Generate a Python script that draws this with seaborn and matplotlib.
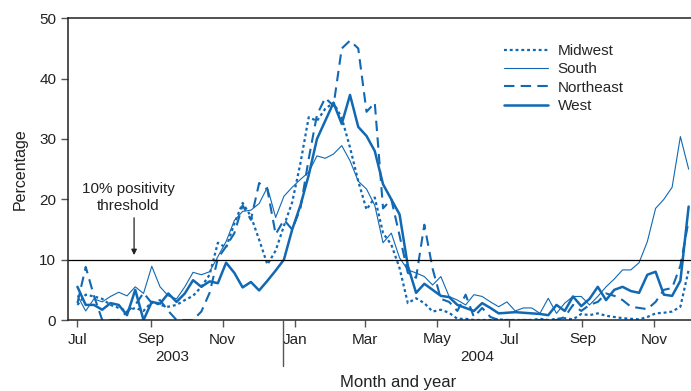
import pandas as pd
import numpy as np
import seaborn as sns
import matplotlib
matplotlib.use("Agg")
import matplotlib.pyplot as plt
import matplotlib.dates as mdates
from matplotlib.lines import Line2D

# weekly percentage of positive specimens, Jul 2003 - Nov 2004
weeks = pd.date_range("2003-07-01", periods=75, freq="7D")

midwest = [2.5, 4.2, 3.9, 3.5, 2.5, 2.0, 1.5, 2.0, 1.5, 3.0,
           2.5, 2.2, 2.5, 3.3, 4.0, 5.5, 7.5, 12.8, 12.0, 16.0,
           19.4, 17.2, 13.3, 9.2, 11.5, 15.6, 19.5, 26.0, 33.6, 33.0,
           35.0, 36.0, 33.5, 28.6, 23.0, 18.3, 20.3, 14.4, 12.5, 8.6,
           2.8, 3.6, 2.8, 1.4, 1.7, 1.2, 0.2, 0.2, 0.0, 0.0,
           0.0, 0.1, 0.0, 0.0, 0.0, 0.0, 0.2, 0.0, 0.2, 0.3,
           0.1, 1.0, 0.8, 1.1, 0.7, 0.5, 0.3, 0.2, 0.1, 0.5,
           1.1, 1.2, 1.4, 2.2, 8.3]

south = [4.0, 1.5, 3.5, 3.0, 3.9, 4.6, 4.0, 5.5, 4.4, 8.9,
         5.5, 4.0, 3.5, 5.5, 7.9, 7.5, 8.0, 10.5, 13.0, 16.5,
         18.0, 18.2, 19.3, 22.0, 17.0, 20.5, 22.0, 23.3, 24.5, 27.2,
         26.8, 27.5, 28.9, 26.4, 23.0, 21.7, 19.0, 12.8, 14.4, 10.3,
         8.3, 7.8, 7.2, 5.8, 7.2, 3.9, 3.3, 2.5, 4.2, 3.9,
         3.0, 2.2, 3.0, 1.5, 2.0, 2.0, 1.1, 3.6, 1.1, 2.8,
         3.9, 3.9, 2.5, 3.9, 5.5, 6.8, 8.3, 8.3, 9.5, 13.0,
         18.5, 20.0, 22.0, 30.4, 25.0]

northeast = [2.8, 8.8, 4.0, 0.0, 0.0, 0.0, 1.4, 2.5, 4.5, 2.8,
             3.3, 1.5, 0.0, 0.0, 0.0, 1.4, 4.5, 10.2, 12.2, 14.4,
             19.0, 16.6, 22.7, 21.6, 14.2, 16.6, 15.0, 18.5, 26.7, 34.0,
             36.8, 35.5, 45.0, 46.3, 45.0, 34.5, 36.0, 18.5, 20.0, 14.0,
             7.8, 7.0, 15.8, 8.5, 3.5, 3.0, 1.5, 4.2, 0.5, 2.0,
             0.5, 0.0, 0.0, 0.0, 0.0, 0.0, 0.0, 0.0, 0.0, 0.5,
             2.5, 1.5, 2.5, 3.0, 4.4, 4.0, 3.3, 2.2, 2.0, 1.8,
             3.0, 5.0, 5.3, 9.0, 16.5]

west = [5.5, 2.5, 2.5, 1.7, 2.8, 2.5, 0.8, 5.0, 0.0, 3.0,
        2.7, 4.4, 3.0, 4.4, 6.6, 5.5, 6.4, 6.1, 9.5, 7.8,
        5.4, 6.3, 4.9, 6.5, 8.2, 10.0, 15.0, 19.0, 24.0, 30.0,
        33.0, 36.0, 32.5, 37.3, 32.0, 30.5, 28.0, 22.5, 20.0, 17.5,
        9.0, 4.5, 6.0, 5.0, 4.0, 3.8, 2.5, 2.0, 1.5, 2.8,
        2.0, 1.1, 1.2, 1.3, 1.2, 1.1, 1.0, 0.8, 2.5, 1.5,
        3.9, 2.3, 3.5, 5.5, 3.3, 5.0, 5.5, 4.8, 4.5, 7.5,
        8.0, 4.2, 4.0, 6.5, 18.8]

regions = ["Midwest", "South", "Northeast", "West"]
values = [midwest, south, northeast, west]

df = pd.DataFrame({"week": np.tile(weeks, 4),
                   "region": np.repeat(regions, len(weeks)),
                   "pct": np.concatenate(values)})

blue = "#1168b3"
styles = {"Midwest": dict(linestyle=(0, (1.3, 1.3)), linewidth=1.6),
          "South": dict(linestyle="-", linewidth=0.8),
          "Northeast": dict(linestyle=(0, (5, 3)), linewidth=1.5),
          "West": dict(linestyle="-", linewidth=1.8)}

sns.set_style("ticks")
plt.rcParams["font.family"] = ["Liberation Sans", "DejaVu Sans"]

fig = plt.figure(figsize=(6.91, 3.91), dpi=100)
ax = fig.add_axes([68 / 691, 71 / 391, 1 - 68 / 691, 301.7 / 391])

for r in regions:
    sns.lineplot(data=df[df.region == r], x="week", y="pct", ax=ax,
                 color=blue, label=r, **styles[r])

ax.axhline(10, color="black", linewidth=0.9)

ax.set_ylim(0, 50)
ax.set_yticks([0, 10, 20, 30, 40, 50])
ax.set_xlim(pd.Timestamp("2003-06-23"), pd.Timestamp("2004-12-02"))
ax.xaxis.set_major_locator(mdates.MonthLocator(bymonth=[1, 3, 5, 7, 9, 11]))
ax.xaxis.set_major_formatter(mdates.DateFormatter("%b"))
ax.tick_params(axis="both", labelsize=11, color="#555555", length=5,
               width=1, labelcolor="#222222")
ax.tick_params(axis="x", pad=4)
for s in ["left", "bottom", "top"]:
    ax.spines[s].set_color("#222222")
    ax.spines[s].set_linewidth(1.1)
ax.spines["right"].set_visible(False)

ax.set_xlabel("")
ax.set_ylabel("Percentage", fontsize=11.5, color="#222222", labelpad=8)

ax.text(pd.Timestamp("2003-08-13"), 20.3, "10% positivity\nthreshold",
        ha="center", va="center", fontsize=11, color="#222222",
        linespacing=1.3)
ax.annotate("", xy=(pd.Timestamp("2003-08-18"), 10.3),
            xytext=(pd.Timestamp("2003-08-18"), 17.4),
            arrowprops=dict(arrowstyle="-|>", color="#222222", lw=0.9,
                            mutation_scale=8))

ax.legend(loc="upper left", bbox_to_anchor=(0.69, 0.935), frameon=False,
          fontsize=11, handlelength=2.9, labelspacing=0.28,
          handletextpad=0.6, borderaxespad=0)

fig.text(172 / 691, 1 - 357 / 391, "2003", ha="center", va="center",
         fontsize=11, color="#222222")
fig.text(477 / 691, 1 - 357 / 391, "2004", ha="center", va="center",
         fontsize=11, color="#222222")
fig.text(398 / 691, 1 - 383 / 391, "Month and year", ha="center",
         va="center", fontsize=12, color="#222222")
fig.add_artist(Line2D([283 / 691, 283 / 691], [1 - 320 / 391, 1 - 366 / 391],
                      transform=fig.transFigure, color="#555555", lw=1))

fig.savefig("out.png", dpi=100)
